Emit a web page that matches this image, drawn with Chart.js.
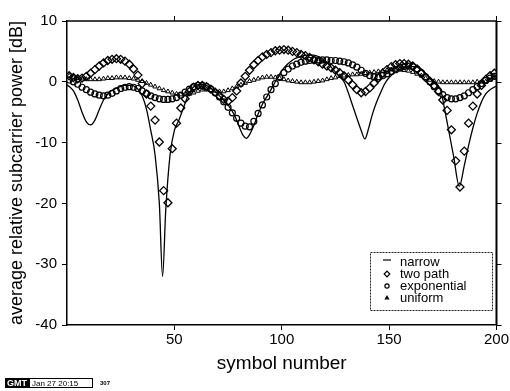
<!DOCTYPE html>
<html>
<head>
<meta charset="utf-8">
<script src="https://cdn.jsdelivr.net/npm/chart.js@4.4.1/dist/chart.umd.min.js"></script>
<style>
    html, body { margin: 0; padding: 0; background: #fff; }
    #wrap { width: 510px; height: 391px; position: relative; }
</style>
</head>
<body>
<div id="wrap"><canvas id="chart" width="510" height="391"></canvas></div>
<script>
// symbol positions of the marker series
var SYMBOLS = [
    1, 3, 5, 7, 9, 11, 13, 15, 17, 19,
    21, 23, 25, 27, 29, 31, 33, 35, 37, 39,
    41, 43, 45, 47, 49, 51, 53, 55, 57, 59,
    61, 63, 65, 67, 69, 71, 73, 75, 77, 79,
    81, 83, 85, 87, 89, 91, 93, 95, 97, 99,
    101, 103, 105, 107, 109, 111, 113, 115, 117, 119,
    121, 123, 125, 127, 129, 131, 133, 135, 137, 139,
    141, 143, 145, 147, 149, 151, 153, 155, 157, 159,
    161, 163, 165, 167, 169, 171, 173, 175, 177, 179,
    181, 183, 185, 187, 189, 191, 193, 195, 197, 199
];

var TWO_PATH = [
    1.0, 0.7, 0.5, 0.6, 0.9, 1.4, 2.0, 2.6, 3.1, 3.5,
    3.7, 3.8, 3.7, 3.4, 2.9, 2.1, 1.1, -0.3, -2.0, -4.0,
    -6.3, -9.9, -17.9, -19.9, -11.0, -6.8, -4.3, -2.8, -1.6, -0.9,
    -0.6, -0.6, -0.8, -1.2, -1.7, -2.3, -2.9, -3.2, -2.6, -1.5,
    -0.2, 0.9, 1.9, 2.8, 3.5, 4.1, 4.5, 4.8, 5.1, 5.2,
    5.3, 5.2, 5.0, 4.8, 4.5, 4.3, 4.0, 3.6, 3.3, 2.9,
    2.6, 2.3, 1.9, 1.5, 1.0, 0.3, -0.5, -1.3, -1.8, -1.6,
    -1.0, -0.2, 0.6, 1.4, 2.0, 2.5, 2.8, 3.0, 3.0, 2.9,
    2.6, 2.1, 1.4, 0.7, 0.1, -0.6, -1.6, -3.0, -4.7, -7.9,
    -13.0, -17.3, -11.4, -6.8, -4.0, -2.0, -0.6, 0.4, 1.0, 1.4
];

var EXPONENTIAL = [
    0.3, 0.0, -0.4, -0.9, -1.3, -1.7, -2.0, -2.2, -2.3, -2.2,
    -1.9, -1.5, -1.1, -0.9, -0.8, -0.9, -1.1, -1.5, -1.9, -2.3,
    -2.6, -2.8, -2.9, -2.9, -2.8, -2.6, -2.2, -1.7, -1.2, -0.8,
    -0.6, -0.6, -0.8, -1.2, -1.8, -2.5, -3.3, -4.2, -5.1, -6.0,
    -6.8, -7.3, -7.4, -6.5, -5.2, -3.8, -2.5, -1.3, -0.3, 0.7,
    1.5, 2.1, 2.6, 2.9, 3.2, 3.4, 3.5, 3.6, 3.6, 3.6,
    3.6, 3.5, 3.5, 3.4, 3.3, 3.1, 2.8, 2.4, 1.9, 1.4,
    1.0, 0.8, 0.8, 1.0, 1.3, 1.7, 2.0, 2.3, 2.5, 2.6,
    2.5, 2.1, 1.5, 0.8, 0.0, -0.8, -1.5, -2.1, -2.6, -2.8,
    -2.8, -2.6, -2.3, -1.8, -1.3, -0.8, -0.3, 0.2, 0.6, 0.9
];

var UNIFORM = [
    1.0, 0.8, 0.6, 0.5, 0.4, 0.4, 0.4, 0.4, 0.5, 0.6,
    0.6, 0.7, 0.7, 0.7, 0.6, 0.5, 0.3, 0.1, -0.2, -0.5,
    -0.8, -1.1, -1.4, -1.6, -1.8, -2.0, -2.1, -2.1, -2.0, -1.8,
    -1.5, -1.3, -1.3, -1.4, -1.5, -1.6, -1.6, -1.4, -1.1, -0.8,
    -0.5, -0.2, 0.1, 0.3, 0.5, 0.7, 0.8, 0.8, 0.7, 0.6,
    0.4, 0.2, 0.1, 0.0, -0.1, -0.1, -0.1, 0.0, 0.1, 0.2,
    0.4, 0.6, 0.7, 0.9, 1.0, 1.1, 1.2, 1.2, 1.3, 1.4,
    1.5, 1.6, 1.7, 1.8, 1.9, 2.0, 2.0, 2.0, 1.9, 1.8,
    1.6, 1.3, 1.0, 0.6, 0.3, 0.1, 0.0, -0.1, -0.1, -0.1,
    -0.1, -0.1, -0.1, -0.1, -0.1, 0.0, 0.0, 0.0, 0.3, 0.8
];

// narrow channel, drawn as a solid line through these points
var NARROW_X = [
    0, 3, 5, 7, 9, 11, 13, 15, 17, 19, 21, 24, 27, 30, 33, 35, 37, 39, 41, 43, 44.5,
    46, 48, 50, 52, 54, 56, 58, 60, 63, 66, 69, 72, 75, 78, 80, 82, 83.5, 85, 87, 89,
    91, 94, 97, 100, 103, 106, 109, 112, 115, 118, 121, 124, 127, 129, 131, 133, 135,
    137, 138.7, 140.5, 142, 144, 146, 148, 150, 153, 156, 159, 162, 165, 168, 170,
    172, 174, 176, 178, 180, 182.7, 185, 187, 189, 191, 193, 195, 197, 200
];
var NARROW_Y = [
    -0.5, -1.5, -3.0, -5.0, -6.6, -7.1, -6.3, -4.6, -3.0, -2.0, -1.4, -0.9, -0.6, -0.6, -1.2, -2.3, -4.5, -8.0, -12.0, -20.0, -32.0,
    -21.0, -12.0, -8.0, -6.4, -4.5, -2.6, -1.2, -0.6, -0.4, -0.8, -1.6, -2.7, -3.8, -5.5, -7.2, -8.8, -9.3, -8.7, -7.2, -5.3,
    -3.7, -1.9, 0.0, 1.8, 3.0, 3.8, 4.2, 4.4, 4.4, 4.0, 3.2, 2.0, 0.8, 0.0, -1.8, -3.9, -6.0,
    -8.0, -9.4, -7.6, -5.6, -3.5, -1.8, -0.3, 0.7, 1.6, 2.2, 2.5, 2.5, 2.0, 1.0, 0.3,
    -0.5, -1.3, -4.8, -8.5, -12.2, -17.2, -13.8, -10.5, -7.6, -5.2, -3.3, -2.0, -1.3, -0.7
];

var X_TICKS = [50, 100, 150, 200];
var Y_TICKS = [-40, -30, -20, -10, 0, 10];

function points(xs, ys) {
    return xs.map(function (x, i) {
        return { x: x, y: ys[i] };
    });
}

var FONT = "'Liberation Sans', Arial, Helvetica, sans-serif";

// frame on top and right, with outward ticks like the left/bottom axes
var framePlugin = {
    id: 'frame',
    afterDraw: function (chart) {
        var ctx = chart.ctx;
        var area = chart.chartArea;
        var xs = chart.scales.x;
        var ys = chart.scales.y;
        ctx.save();
        ctx.strokeStyle = '#000';
        ctx.lineWidth = 1.5;
        ctx.beginPath();
        ctx.moveTo(area.left, area.top);
        ctx.lineTo(area.right, area.top);
        ctx.stroke();
        ctx.lineWidth = 2;
        ctx.beginPath();
        ctx.moveTo(area.right, area.top);
        ctx.lineTo(area.right, area.bottom);
        ctx.stroke();
        ctx.lineWidth = 1;
        X_TICKS.forEach(function (v) {
            var px = Math.round(xs.getPixelForValue(v)) + 0.5;
            ctx.beginPath();
            ctx.moveTo(px, area.top);
            ctx.lineTo(px, area.top - 5);
            ctx.stroke();
        });
        Y_TICKS.forEach(function (v) {
            var py = Math.round(ys.getPixelForValue(v)) + 0.5;
            ctx.beginPath();
            ctx.moveTo(area.right, py);
            ctx.lineTo(area.right + 5, py);
            ctx.stroke();
        });
        ctx.restore();
    }
};

// legend box inside the plot, bottom right
var legendPlugin = {
    id: 'boxLegend',
    afterDraw: function (chart) {
        var ctx = chart.ctx;
        var x0 = 370, y0 = 252, w = 122, h = 58;
        ctx.save();
        ctx.fillStyle = '#fff';
        ctx.fillRect(x0, y0, w, h);
        ctx.strokeStyle = '#222';
        ctx.lineWidth = 1;
        ctx.setLineDash([2, 1]);
        ctx.strokeRect(x0 + 0.5, y0 + 0.5, w, h);
        ctx.setLineDash([]);
        ctx.font = '13px ' + FONT;
        ctx.textBaseline = 'middle';
        chart.data.datasets.forEach(function (ds, i) {
            var cy = y0 + 10 + i * 12;
            var cx = 387;
            ctx.strokeStyle = '#000';
            ctx.fillStyle = '#fff';
            ctx.lineWidth = 1.2;
            if (ds.showLine && !ds.pointRadius) {
                ctx.beginPath();
                ctx.moveTo(cx - 4, cy - 2);
                ctx.lineTo(cx + 4, cy - 2);
                ctx.stroke();
            } else {
                Chart.helpers.drawPoint(ctx, {
                    pointStyle: ds.pointStyle,
                    radius: ds.pointRadius * 0.7,
                    borderWidth: 1.2
                }, cx, cy);
            }
            ctx.fillStyle = '#000';
            ctx.fillText(ds.label, 400, cy);
        });
        ctx.restore();
    }
};

// plot stamp under the axes
var stampPlugin = {
    id: 'stamp',
    afterDraw: function (chart) {
        var ctx = chart.ctx;
        ctx.save();
        ctx.fillStyle = '#000';
        ctx.fillRect(5, 378, 24, 10);
        ctx.strokeStyle = '#000';
        ctx.lineWidth = 1;
        ctx.strokeRect(29.5, 378.5, 63, 9);
        ctx.textBaseline = 'middle';
        ctx.font = 'bold 9px ' + FONT;
        ctx.fillStyle = '#fff';
        ctx.fillText('GMT', 7, 383.5);
        ctx.fillStyle = '#000';
        ctx.font = '8px ' + FONT;
        ctx.fillText('Jan 27 20:15', 32, 383.5);
        ctx.font = 'bold 6px ' + FONT;
        ctx.fillText('307', 100, 383.5);
        ctx.restore();
    }
};

new Chart(document.getElementById('chart'), {
    type: 'scatter',
    data: {
        datasets: [
            {
                label: 'narrow',
                data: points(NARROW_X, NARROW_Y),
                showLine: true,
                borderColor: '#000',
                borderWidth: 1.3,
                pointRadius: 0,
                tension: 0.4,
                cubicInterpolationMode: 'monotone',
                order: 4
            },
            {
                label: 'two path',
                data: points(SYMBOLS, TWO_PATH),
                showLine: false,
                pointStyle: 'rectRot',
                pointRadius: 4,
                borderColor: '#000',
                backgroundColor: 'rgba(255,255,255,0)',
                borderWidth: 1.3,
                order: 1
            },
            {
                label: 'exponential',
                data: points(SYMBOLS, EXPONENTIAL),
                showLine: false,
                pointStyle: 'circle',
                pointRadius: 3,
                borderColor: '#000',
                backgroundColor: 'rgba(255,255,255,0)',
                borderWidth: 1.2,
                order: 2
            },
            {
                label: 'uniform',
                data: points(SYMBOLS, UNIFORM),
                showLine: false,
                pointStyle: 'triangle',
                pointRadius: 2.6,
                borderColor: '#000',
                backgroundColor: 'rgba(255,255,255,0)',
                borderWidth: 1,
                order: 3
            }
        ]
    },
    options: {
        responsive: false,
        animation: false,
        layout: {
            padding: { left: 0, top: 21, right: 12, bottom: 0 }
        },
        plugins: {
            legend: { display: false },
            tooltip: { enabled: false }
        },
        scales: {
            x: {
                type: 'linear',
                min: 0,
                max: 200,
                afterBuildTicks: function (scale) {
                    scale.ticks = X_TICKS.map(function (v) { return { value: v }; });
                },
                afterFit: function (scale) {
                    scale.height = 66;
                },
                ticks: {
                    color: '#000',
                    font: { family: FONT, size: 15 },
                    padding: 1,
                    maxRotation: 0
                },
                grid: {
                    drawOnChartArea: false,
                    drawTicks: true,
                    tickLength: 5,
                    color: '#000'
                },
                border: { color: '#000', width: 1.5 },
                title: {
                    display: true,
                    text: 'symbol number',
                    color: '#000',
                    font: { family: FONT, size: 19 },
                    padding: { top: 0, bottom: 16 }
                }
            },
            y: {
                min: -40,
                max: 10,
                afterBuildTicks: function (scale) {
                    scale.ticks = Y_TICKS.map(function (v) { return { value: v }; });
                },
                afterFit: function (scale) {
                    scale.width = 67;
                },
                ticks: {
                    color: '#000',
                    font: { family: FONT, size: 15 },
                    padding: 5
                },
                grid: {
                    drawOnChartArea: false,
                    drawTicks: true,
                    tickLength: 5,
                    color: '#000'
                },
                border: { color: '#000', width: 1.5 },
                title: {
                    display: true,
                    text: 'average relative subcarrier power [dB]',
                    color: '#000',
                    font: { family: FONT, size: 18 },
                    padding: { top: 6, bottom: 0 }
                }
            }
        }
    },
    plugins: [framePlugin, legendPlugin, stampPlugin]
});
</script>
</body>
</html>
